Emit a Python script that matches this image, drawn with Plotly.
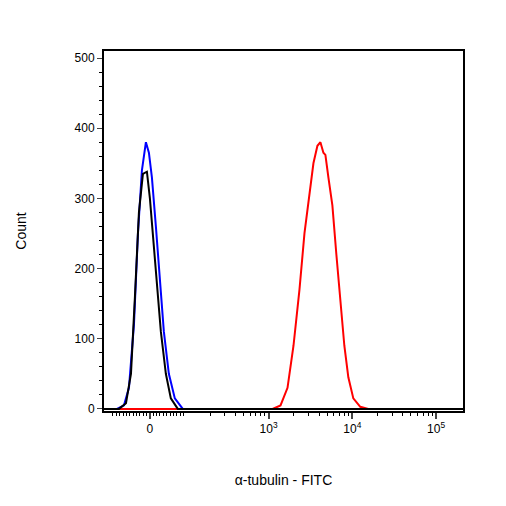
import numpy as np
import plotly.graph_objects as go

# display coordinate: 0 -> value 0, each decade above 10^3 = 1 unit, 10^3 at 1.417
blue_px = [116,123,128,133,137,141,145,148,151,155,159,163,168,174,182]
blue_y  = [0,5,30,120,250,340,380,365,330,260,180,110,50,15,0]
black_px = [118,125,130,134,138,142,146,149,152,156,160,165,170,177]
black_y  = [0,8,50,160,280,335,338,300,250,180,110,50,15,0]
red_px = [272,280,287,293,299,304,309,313,317,320,323,325,328,332,336,340,344,348,353,360,368]
red_y  = [0,5,30,90,170,250,310,350,375,380,365,362,330,290,220,150,90,45,15,3,0]
tick_labels = ["0", "10<sup>3</sup>", "10<sup>4</sup>", "10<sup>5</sup>"]

def d(px): return [(p-149)/84 for p in px]
XMIN, XMAX = -0.548, 3.738
def log_d(v): return 1.417 + np.log10(v) - 3

fig = go.Figure()
for px, y, c in [(red_px, red_y, "#ff0000"), (blue_px, blue_y, "#0000ff"), (black_px, black_y, "#000000")]:
    xs = [XMIN] + d(px) + [XMAX]
    ys = [0] + y + [0]
    fig.add_trace(go.Scatter(x=xs, y=ys, mode="lines", line=dict(color=c, width=2)))

minor = []
for n in [2, 3, 4]:
    for k in range(2, 10):
        v = log_d(k * 10**n)
        if XMIN < v < XMAX and v > 0.45:
            minor.append(v)
minor += [-0.45,-0.4,-0.36,-0.32,-0.28,-0.24,-0.2,-0.16,-0.12,-0.08,-0.04,0.04,0.08,0.12,0.16,0.2,0.24,0.28,0.32,0.36,0.4]

fig.update_layout(
    width=506, height=506, showlegend=False, plot_bgcolor="white", paper_bgcolor="white",
    margin=dict(l=96, r=51, t=43, b=103),
    font=dict(family="Liberation Sans, Arial", size=12, color="black"),
    xaxis=dict(range=[XMIN, XMAX], tickvals=[0, 1.417, 2.417, 3.417], ticktext=tick_labels,
               ticks="outside", ticklen=6, tickwidth=2, showgrid=False, zeroline=False,
               showline=True, linecolor="black", linewidth=2, mirror=True,
               minor=dict(tickvals=minor, ticks="outside", ticklen=3, tickwidth=1, tickcolor="black"),
               title=dict(text="α-tubulin - FITC", standoff=40)),
    yaxis=dict(range=[-3, 510], tickvals=[0,100,200,300,400,500], ticks="outside", ticklen=5,
               showgrid=False, zeroline=False, showline=True, linecolor="black", linewidth=2, mirror=True,
               minor=dict(dtick=20, ticks="outside", ticklen=3, tickcolor="black"),
               title=dict(text="Count", standoff=45)),
)
fig.write_html("out.html")
